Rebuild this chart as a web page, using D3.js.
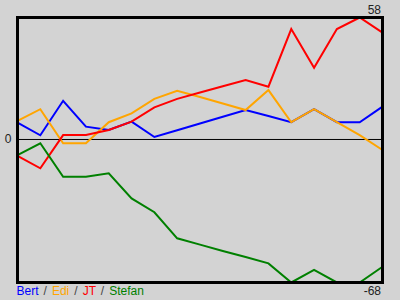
<!DOCTYPE html>
<html>
<head>
<meta charset="utf-8">
<script src="https://cdn.jsdelivr.net/npm/d3@7"></script>
<style>
    body { margin: 0; background: lightgray; }
    svg { display: block; }
</style>
</head>
<body>
<script>
// chart data, one array per player (round 0..16)
var players = [ "Bert", "Edi", "JT", "Stefan" ];
var colors = [ "blue", "orange", "red", "green" ];

var bert   = [ 8, 2, 18.4, 6.1, 4.5, 8.5, 1.2, 4.4, 7.6, 10.8, 14, 11.2, 8.2, 14.4, 8.2, 8.2, 15.6 ];
var edi    = [ 8.8, 14.4, -1.8, -1.8, 8.2, 12.4, 19.3, 23.2, 20.2, 17.1, 14, 23.5, 8.2, 14.4, 8.2, 2.1, -5 ];
var jt     = [ -7.8, -13.7, 2.1, 2.1, 4.5, 8.5, 15.3, 19.3, 22.3, 25.3, 28.3, 25.1, 52.5, 34.1, 52.5, 58, 50.8 ];
var stefan = [ -7.4, -1.8, -17.7, -17.7, -16.1, -28, -34.6, -47, -50, -53, -55.9, -58.9, -68, -62, -68, -68, -60.5 ];

var series = [ bert, edi, jt, stefan ];

var yMax = 58, yMin = -68;     // axis end labels

var W = 400, H = 300;
var box = { left: 17.5, right: 382.5, top: 17.5, bottom: 282.5 };

var svg = d3.select("body").append("svg")
    .attr("width", W)
    .attr("height", H)
    .style("font-family", "Arial, 'Liberation Sans', sans-serif")
    .style("font-size", "12px");

svg.append("rect")
    .attr("width", W)
    .attr("height", H)
    .attr("fill", "lightgray");

var x = d3.scaleLinear()
    .domain([0, bert.length - 1])
    .range([box.left, box.right]);

var y = d3.scaleLinear()
    .domain([yMin, yMax])
    .range([box.bottom, box.top]);

/* zero line */
svg.append("line")
    .attr("x1", box.left)
    .attr("x2", box.right)
    .attr("y1", y(0))
    .attr("y2", y(0))
    .attr("stroke", "black")
    .attr("stroke-width", 1);

var line = d3.line()
    .x(function(d, i) { return x(i); })
    .y(function(d) { return y(d); });

svg.selectAll("path.series")
    .data(series)
    .enter()
    .append("path")
    .attr("class", "series")
    .attr("d", line)
    .attr("fill", "none")
    .attr("stroke", function(d, i) { return colors[i]; })
    .attr("stroke-width", 2);

/* frame on top */
svg.append("rect")
    .attr("x", box.left)
    .attr("y", box.top)
    .attr("width", box.right - box.left)
    .attr("height", box.bottom - box.top)
    .attr("fill", "none")
    .attr("stroke", "black")
    .attr("stroke-width", 3);

// axis labels: max, min, zero
svg.append("text")
    .attr("x", 381)
    .attr("y", 14)
    .attr("text-anchor", "end")
    .attr("fill", "#222")
    .text(yMax);

svg.append("text")
    .attr("x", 381)
    .attr("y", 295)
    .attr("text-anchor", "end")
    .attr("fill", "#222")
    .text(yMin);

svg.append("text")
    .attr("x", 11.5)
    .attr("y", y(0) + 3.5)
    .attr("text-anchor", "end")
    .attr("fill", "#222")
    .text("0");

/* legend: names separated by slashes */
var legend = svg.append("text")
    .attr("x", 16.5)
    .attr("y", 295)
    .attr("xml:space", "preserve");

players.forEach(function(p, i) {
    legend.append("tspan")
        .attr("dx", i > 0 ? 1.7 : 0)
        .attr("fill", colors[i])
        .text(p);
    if (i < players.length - 1) {
        legend.append("tspan")
            .attr("dx", 1.7)
            .attr("fill", "#444")
            .text(" / ");
    }
});
</script>
</body>
</html>
